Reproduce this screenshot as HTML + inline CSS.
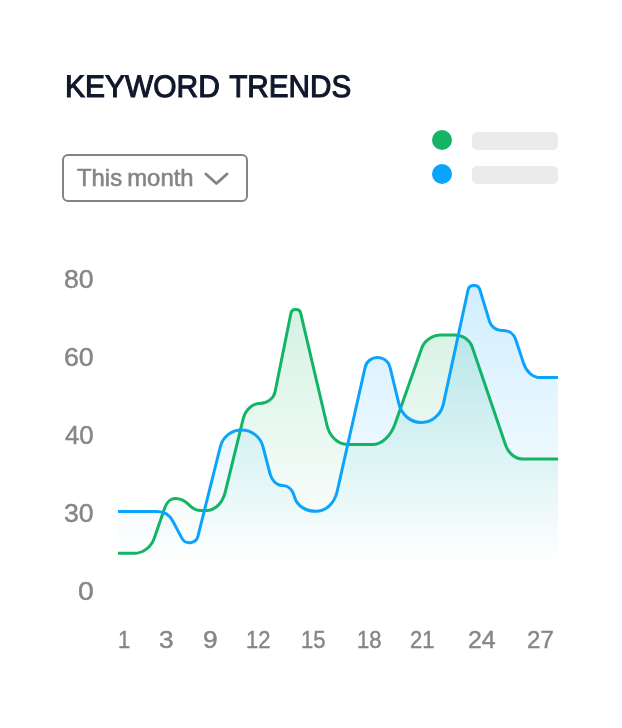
<!DOCTYPE html>
<html lang="en">
<head>
<meta charset="utf-8">
<title>Keyword Trends</title>
<style>
html,body{margin:0;padding:0;background:#fff;}
body{width:622px;height:728px;position:relative;overflow:hidden;font-family:"Liberation Sans",sans-serif;}
.wrap{position:absolute;left:0;top:0;width:622px;height:728px;will-change:transform;}
.title{position:absolute;left:60px;top:67.2px;margin:0;font-size:31.1px;line-height:40px;font-weight:normal;-webkit-text-stroke:1.1px #10182c;color:#10182c;white-space:nowrap;}
.title span{display:inline-block;transform-origin:0 50%;}
.select{position:absolute;left:62px;top:154px;width:182px;height:44px;border:2px solid #848484;border-radius:6px;box-sizing:content-box;}
.select span{position:absolute;left:12.6px;top:8px;font-size:23.7px;line-height:28px;color:#848484;white-space:nowrap;transform-origin:0 50%;transform:scaleX(1.008);word-spacing:-1.5px;-webkit-text-stroke:0.55px #848484;}
.select svg{position:absolute;left:138.5px;top:15.5px;}
.dot{position:absolute;width:20px;height:20px;border-radius:50%;left:432px;}
.bar{position:absolute;left:472px;width:86px;height:18px;border-radius:5px;background:#ebebeb;}
.lb{position:absolute;white-space:nowrap;color:#868686;-webkit-text-stroke:0.45px #868686;transform-origin:0 0;line-height:28px;}
.yl{font-size:25px;}
.xl{font-size:23.9px;}
svg.chart{position:absolute;left:0;top:0;}
</style>
</head>
<body>
<div class="wrap">
<h1 class="title"><span style="transform:translate(5.07px,0px) rotate(0.03deg) scale(0.9632,1)">KEYWORD</span> <span style="transform:translate(0.18px,0px) rotate(0.03deg) scale(0.9545,1)">TRENDS</span></h1>
<div class="select"><span>This month</span>
<svg width="28" height="16" viewBox="0 0 28 16"><path d="M2.9 2 L13.4 11.5 L24 2" fill="none" stroke="#848484" stroke-width="2.9" stroke-linecap="round" stroke-linejoin="round"/></svg>
</div>
<div class="dot" style="top:130px;background:#14b466"></div>
<div class="dot" style="top:164px;background:#0aa4fd"></div>
<div class="bar" style="top:132px"></div>
<div class="bar" style="top:166px"></div>
<svg class="chart" width="622" height="728" viewBox="0 0 622 728">
<defs>
<linearGradient id="gb" gradientUnits="userSpaceOnUse" x1="0" y1="282" x2="0" y2="561"><stop offset="0" stop-color="#0aa4fd" stop-opacity="0.19"/><stop offset="1" stop-color="#0aa4fd" stop-opacity="0"/></linearGradient>
<linearGradient id="gg" gradientUnits="userSpaceOnUse" x1="0" y1="306" x2="0" y2="561"><stop offset="0" stop-color="#14b466" stop-opacity="0.18"/><stop offset="1" stop-color="#14b466" stop-opacity="0"/></linearGradient>
</defs>
<path d="M118 562.80 L118 559.30 Q118 553.30 124.00 553.30 L134.00 553.30 C142.98 553.30 151.10 547.23 154.24 538.18 L164.72 507.95 C166.69 502.29 170.81 498.50 175.00 498.50 L175.30 498.50 C179.97 498.50 184.63 500.53 188.26 504.16 L188.94 504.84 C192.57 508.47 196.76 510.50 200.60 510.50 L206.70 510.50 C214.92 510.50 222.57 502.88 225.22 492.05 L243.09 419.04 C245.33 409.92 252.23 403.50 259.80 403.50 L259.80 403.50 C267.30 403.50 273.69 398.58 275.08 391.74 L290.97 313.01 C291.40 310.91 293.24 309.40 295.38 309.40 L296.23 309.40 C298.32 309.40 300.14 310.84 300.61 312.87 L327.05 425.52 C329.66 436.64 338.13 444.50 347.50 444.50 L372.30 444.50 C381.59 444.50 390.73 436.18 395.10 423.75 L421.66 348.21 C424.44 340.29 432.31 335.00 441.30 335.00 L454.60 335.00 C462.67 335.00 469.72 339.76 472.13 346.83 L505.46 444.70 C508.36 453.19 515.12 458.90 522.30 458.90 L552.00 458.90 Q558 458.90 558 464.90 L558 562.80 Z" fill="url(#gg)" transform="translate(0,1.2)"/>
<path d="M118 562.80 L118 517.60 Q118 511.60 124.00 511.60 L156.96 511.60 C163.63 511.60 169.75 515.29 172.87 521.18 L181.84 538.13 C185.57 545.18 196.03 543.91 197.97 536.17 L220.38 446.49 C222.80 436.80 231.51 430.00 241.50 430.00 L241.60 430.00 C251.61 430.00 260.37 436.76 262.90 446.45 L270.07 473.89 C271.85 480.73 276.80 485.50 282.10 485.50 L282.70 485.50 C287.47 485.50 291.84 488.95 293.52 494.05 L294.82 498.00 C297.43 505.94 305.85 511.30 315.70 511.30 L316.20 511.30 C325.85 511.30 334.52 503.20 337.09 491.79 L365.08 367.47 C368.06 354.27 386.82 354.11 390.01 367.26 L398.92 403.94 C401.55 414.77 410.63 422.40 420.90 422.40 L421.90 422.40 C432.11 422.40 441.07 414.67 443.42 403.83 L467.99 290.25 C468.58 287.54 470.98 285.60 473.76 285.60 L474.23 285.60 C476.83 285.60 479.12 287.30 479.87 289.78 L489.60 321.65 C491.20 326.91 496.06 330.50 501.55 330.50 L503.67 330.50 C509.06 330.50 513.84 333.95 515.54 339.07 L523.74 363.84 C526.46 372.05 533.14 377.60 540.30 377.60 L552.00 377.60 Q558 377.60 558 383.60 L558 562.80 Z" fill="url(#gb)" transform="translate(0,1.2)"/>
<path d="M118.00 553.30 L134.00 553.30 C142.98 553.30 151.10 547.23 154.24 538.18 L164.72 507.95 C166.69 502.29 170.81 498.50 175.00 498.50 L175.30 498.50 C179.97 498.50 184.63 500.53 188.26 504.16 L188.94 504.84 C192.57 508.47 196.76 510.50 200.60 510.50 L206.70 510.50 C214.92 510.50 222.57 502.88 225.22 492.05 L243.09 419.04 C245.33 409.92 252.23 403.50 259.80 403.50 L259.80 403.50 C267.30 403.50 273.69 398.58 275.08 391.74 L290.97 313.01 C291.40 310.91 293.24 309.40 295.38 309.40 L296.23 309.40 C298.32 309.40 300.14 310.84 300.61 312.87 L327.05 425.52 C329.66 436.64 338.13 444.50 347.50 444.50 L372.30 444.50 C381.59 444.50 390.73 436.18 395.10 423.75 L421.66 348.21 C424.44 340.29 432.31 335.00 441.30 335.00 L454.60 335.00 C462.67 335.00 469.72 339.76 472.13 346.83 L505.46 444.70 C508.36 453.19 515.12 458.90 522.30 458.90 L558.00 458.90" fill="none" stroke="#14b466" stroke-width="3" stroke-linejoin="round"/>
<path d="M118.00 511.60 L156.96 511.60 C163.63 511.60 169.75 515.29 172.87 521.18 L181.84 538.13 C185.57 545.18 196.03 543.91 197.97 536.17 L220.38 446.49 C222.80 436.80 231.51 430.00 241.50 430.00 L241.60 430.00 C251.61 430.00 260.37 436.76 262.90 446.45 L270.07 473.89 C271.85 480.73 276.80 485.50 282.10 485.50 L282.70 485.50 C287.47 485.50 291.84 488.95 293.52 494.05 L294.82 498.00 C297.43 505.94 305.85 511.30 315.70 511.30 L316.20 511.30 C325.85 511.30 334.52 503.20 337.09 491.79 L365.08 367.47 C368.06 354.27 386.82 354.11 390.01 367.26 L398.92 403.94 C401.55 414.77 410.63 422.40 420.90 422.40 L421.90 422.40 C432.11 422.40 441.07 414.67 443.42 403.83 L467.99 290.25 C468.58 287.54 470.98 285.60 473.76 285.60 L474.23 285.60 C476.83 285.60 479.12 287.30 479.87 289.78 L489.60 321.65 C491.20 326.91 496.06 330.50 501.55 330.50 L503.67 330.50 C509.06 330.50 513.84 333.95 515.54 339.07 L523.74 363.84 C526.46 372.05 533.14 377.60 540.30 377.60 L558.00 377.60" fill="none" stroke="#0aa4fd" stroke-width="3" stroke-linejoin="round"/>
</svg>
<span class="lb xl" style="left:118.32px;top:626.10px;transform:scaleX(0.9200)">1</span>
<span class="lb xl" style="left:159.05px;top:626.10px;transform:scaleX(1.1000)">3</span>
<span class="lb xl" style="left:202.60px;top:626.10px;transform:scaleX(1.1000)">9</span>
<span class="lb xl" style="left:245.83px;top:626.10px;transform:scaleX(0.9200)">12</span>
<span class="lb xl" style="left:300.93px;top:626.10px;transform:scaleX(0.9200)">15</span>
<span class="lb xl" style="left:357.48px;top:626.10px;transform:scaleX(0.9200)">18</span>
<span class="lb xl" style="left:410.43px;top:626.10px;transform:scaleX(0.9200)">21</span>
<span class="lb xl" style="left:467.56px;top:626.10px;transform:scaleX(1.0440)">24</span>
<span class="lb xl" style="left:527.49px;top:626.10px;transform:scaleX(1.0080)">27</span>
<span class="lb yl" style="left:63.83px;top:265.20px;transform:scaleX(1.0654)">80</span>
<span class="lb yl" style="left:63.73px;top:343.30px;transform:scaleX(1.0692)">60</span>
<span class="lb yl" style="left:64.80px;top:421.40px;transform:scaleX(1.0296)">40</span>
<span class="lb yl" style="left:64.13px;top:499.20px;transform:scaleX(1.0654)">30</span>
<span class="lb yl" style="left:77.87px;top:577.20px;transform:scaleX(1.1333)">0</span>
</div>
</body>
</html>
